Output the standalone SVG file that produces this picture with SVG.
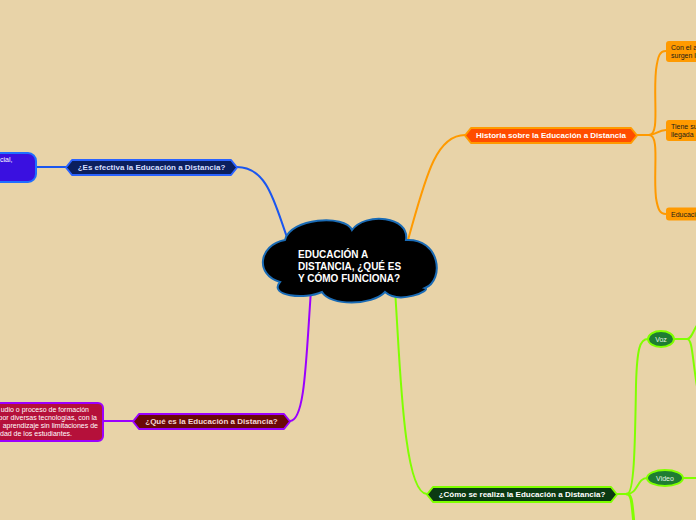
<svg xmlns="http://www.w3.org/2000/svg" width="696" height="520" viewBox="0 0 696 520">
<style>
text{font-family:"Liberation Sans",Arial,sans-serif}
.hx{font-size:8px;font-weight:bold;text-anchor:middle;dominant-baseline:central}
.sm{font-size:7px}
.c{fill:none;stroke-linecap:round}
</style>
<rect width="696" height="520" fill="#e8d3a8"/>
<g id="connectors">
<path class="c" d="M237,167 C268,167 275,205 288,240" stroke="#1a56f0" stroke-width="2"/>
<path class="c" d="M36,167 L66,167" stroke="#1a56f0" stroke-width="2"/>
<path class="c" d="M408,240 C425,180 435,135 465,135" stroke="#ff9a00" stroke-width="2"/>
<path class="c" d="M637,135 L649,135 C660,135 653,100 656,70 C658,55 660,51 666,51" stroke="#ff9a00" stroke-width="2"/>
<path class="c" d="M649,135 C656,135 658,130 666,130" stroke="#ff9a00" stroke-width="2"/>
<path class="c" d="M649,135 C660,135 653,170 656,198 C658,210 660,214 666,214" stroke="#ff9a00" stroke-width="2"/>
<path class="c" d="M311,290 C306,360 305,421 290,421" stroke="#9b00ff" stroke-width="2"/>
<path class="c" d="M133,421 L103,421" stroke="#9b00ff" stroke-width="2"/>
<path class="c" d="M395,290 C400,360 403,494 427,494" stroke="#80ff00" stroke-width="2"/>
<path class="c" d="M617,494 L627,494 C634,494 635,450 636,385 C637,348 640,339 648,339" stroke="#80ff00" stroke-width="2"/>
<path class="c" d="M627,494 C638,494 637,478 647,478" stroke="#80ff00" stroke-width="2"/>
<path class="c" d="M627,494 C632,494 632,505 634,524" stroke="#80ff00" stroke-width="3"/>
<path class="c" d="M674,339 L687,339 C692,339 693,330 698,324" stroke="#80ff00" stroke-width="2"/>
<path class="c" d="M687,339 C693,339 692,360 698,392" stroke="#80ff00" stroke-width="2"/>
<path class="c" d="M683,478 L698,478" stroke="#80ff00" stroke-width="2"/>
</g>
<g id="center">
<path d="M285,240 C290,218 345,214 352,230 C365,212 410,216 406,240 C440,238 445,280 425,288 C432,290 400,305 385,292 C372,306 330,306 322,292 C305,300 268,296 280,282 C255,275 258,245 285,240 Z" fill="#000" stroke="#1a6bb5" stroke-width="2"/>
<text x="298" y="258" font-size="10" font-weight="bold" fill="#fff">EDUCACIÓN A</text>
<text x="298" y="270" font-size="10" font-weight="bold" fill="#fff">DISTANCIA, ¿QUÉ ES</text>
<text x="298" y="282" font-size="10" font-weight="bold" fill="#fff">Y CÓMO FUNCIONA?</text>
</g>
<g id="efectiva">
<polygon points="66,167.5 72,160 231,160 237,167.5 231,175 72,175" fill="#0b1f5e" stroke="#2a62ff" stroke-width="2" stroke-linejoin="round"/>
<text class="hx" x="151.5" y="167.5" fill="#d4deff">¿Es efectiva la Educación a Distancia?</text>
</g>
<g id="efectiva-detalle">
<rect x="-12" y="153" width="48" height="29" rx="8" fill="#3a10e0" stroke="#1f6fff" stroke-width="2"/>
<text class="sm" x="0" y="162" fill="#fff">cial,</text>
</g>
<g id="historia">
<polygon points="465,135.5 471,128 631,128 637,135.5 631,143 471,143" fill="#ff4d00" stroke="#ff9a00" stroke-width="2" stroke-linejoin="round"/>
<text class="hx" x="551" y="135.5" fill="#fff">Historia sobre la Educación a Distancia</text>
</g>
<g id="historia-1">
<rect x="666" y="41" width="44" height="21" rx="3" fill="#ff9a00"/>
<text class="sm" x="671" y="50" fill="#1a1a1a">Con el a</text>
<text class="sm" x="671" y="57.5" fill="#1a1a1a">surgen l</text>
</g>
<g id="historia-2">
<rect x="666" y="120" width="44" height="21" rx="3" fill="#ff9a00"/>
<text class="sm" x="671" y="129" fill="#1a1a1a">Tiene su</text>
<text class="sm" x="671" y="136.5" fill="#1a1a1a">llegada</text>
</g>
<g id="historia-3">
<rect x="666" y="207.5" width="44" height="13" rx="3" fill="#ff9a00"/>
<text class="sm" x="671" y="216.5" fill="#1a1a1a">Educaci</text>
</g>
<g id="que-es">
<polygon points="133,421.5 139,414 284,414 290,421.5 284,429 139,429" fill="#6b0808" stroke="#9b00ff" stroke-width="2" stroke-linejoin="round"/>
<text class="hx" x="211.5" y="421.5" fill="#f3d6d6">¿Qué es la Educación a Distancia?</text>
</g>
<g id="que-es-detalle">
<rect x="-12" y="403" width="115" height="38" rx="5" fill="#b5103a" stroke="#9b00ff" stroke-width="2"/>
<text class="sm" x="89" y="411.5" text-anchor="end" fill="#fff">udio o proceso de formación</text>
<text class="sm" x="97" y="419.5" text-anchor="end" fill="#fff">por diversas tecnologías, con la</text>
<text class="sm" x="98" y="427.5" text-anchor="end" fill="#fff">aprendizaje sin limitaciones de</text>
<text class="sm" x="72" y="435.5" text-anchor="end" fill="#fff">dad de los estudiantes.</text>
</g>
<g id="como">
<polygon points="427,494.5 433,487 611,487 617,494.5 611,502 433,502" fill="#0b3a12" stroke="#80ff00" stroke-width="2" stroke-linejoin="round"/>
<text class="hx" x="522" y="494.5" fill="#fff">¿Cómo se realiza la Educación a Distancia?</text>
</g>
<g id="voz">
<ellipse cx="661" cy="339" rx="13" ry="8" fill="#1e7d32" stroke="#80ff00" stroke-width="2"/>
<text class="sm" x="661" y="339" text-anchor="middle" dominant-baseline="central" fill="#e8f5e8">Voz</text>
</g>
<g id="video">
<ellipse cx="665" cy="478" rx="18" ry="8" fill="#1e7d32" stroke="#80ff00" stroke-width="2"/>
<text class="sm" x="665" y="478" text-anchor="middle" dominant-baseline="central" fill="#e8f5e8">Video</text>
</g>
</svg>
